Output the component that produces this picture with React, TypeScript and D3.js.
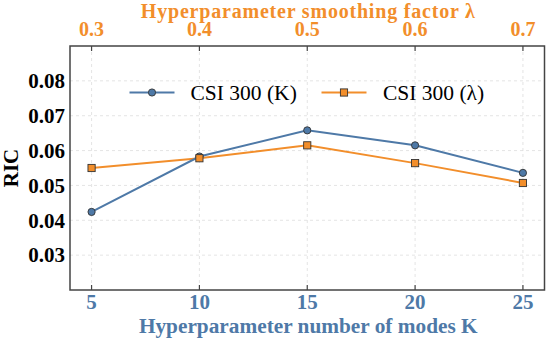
import React, { useRef, useEffect } from "react";
import * as d3 from "d3";

const kValues = [5, 10, 15, 20, 25];
const ricK = [0.0424, 0.0583, 0.0658, 0.0615, 0.0536];
const lambdaValues = [0.3, 0.4, 0.5, 0.6, 0.7];
const ricLambda = [0.055, 0.0578, 0.0615, 0.0564, 0.0507];
const yTicks = [0.03, 0.04, 0.05, 0.06, 0.07, 0.08];

const BLUE = "#4e79a7";
const ORANGE = "#f28e2b";
const FONT = "'Liberation Serif', 'DejaVu Serif', serif";

const App = () => {
  const ref = useRef<SVGSVGElement>(null);

  useEffect(() => {
    if (!ref.current) return;
    const svg = d3.select(ref.current);
    svg.selectAll("*").remove();

    const m = { left: 70, right: 3.5, top: 46, bottom: 51 };
    const W = 548, H = 341;

    const x = d3.scaleLinear().domain([4, 26]).range([m.left, W - m.right]);
    const x2 = d3.scaleLinear().domain([0.28, 0.72]).range([m.left, W - m.right]);
    const y = d3.scaleLinear().domain([0.02, 0.09]).range([H - m.bottom, m.top]);

    const g = svg.append("g");

    // grid
    g.selectAll(".gx").data(kValues).enter().append("line")
      .attr("x1", d => x(d)).attr("x2", d => x(d))
      .attr("y1", m.top).attr("y2", H - m.bottom)
      .attr("stroke", "#ddd").attr("stroke-dasharray", "3,3").attr("stroke-width", 0.8);
    g.selectAll(".gy").data(yTicks).enter().append("line")
      .attr("x1", m.left).attr("x2", W - m.right)
      .attr("y1", d => y(d)).attr("y2", d => y(d))
      .attr("stroke", "#ddd").attr("stroke-dasharray", "3,3").attr("stroke-width", 0.8);

    // frame
    g.append("rect")
      .attr("x", m.left).attr("y", m.top)
      .attr("width", W - m.left - m.right).attr("height", H - m.top - m.bottom)
      .attr("fill", "none").attr("stroke", "#444").attr("stroke-width", 1.5);

    // inner ticks top and bottom
    kValues.forEach(k => {
      g.append("line").attr("x1", x(k)).attr("x2", x(k))
        .attr("y1", H - m.bottom).attr("y2", H - m.bottom - 5)
        .attr("stroke", "#444").attr("stroke-width", 1.2);
    });
    lambdaValues.forEach(l => {
      g.append("line").attr("x1", x2(l)).attr("x2", x2(l))
        .attr("y1", m.top).attr("y2", m.top + 5)
        .attr("stroke", "#444").attr("stroke-width", 1.2);
    });

    // tick labels
    g.selectAll(".ty").data(yTicks).enter().append("text")
      .attr("x", m.left - 5).attr("y", d => y(d)).attr("dy", "0.35em")
      .attr("text-anchor", "end").attr("font-family", FONT).attr("font-weight", "bold")
      .attr("font-size", 21).attr("fill", "#000").text(d => d.toFixed(2));
    g.selectAll(".tx").data(kValues).enter().append("text")
      .attr("x", d => x(d)).attr("y", H - m.bottom + 19)
      .attr("text-anchor", "middle").attr("font-family", FONT).attr("font-weight", "bold")
      .attr("font-size", 21).attr("fill", BLUE).text(d => String(d));
    g.selectAll(".tx2").data(lambdaValues).enter().append("text")
      .attr("x", d => x2(d)).attr("y", m.top - 10.5)
      .attr("text-anchor", "middle").attr("font-family", FONT).attr("font-weight", "bold")
      .attr("font-size", 20).attr("fill", ORANGE).text(d => d.toFixed(1));

    // axis titles
    g.append("text").attr("x", (m.left + W - m.right) / 2 + 1).attr("y", H - 8)
      .attr("text-anchor", "middle").attr("font-family", FONT).attr("font-weight", "bold")
      .attr("font-size", 21.3).attr("fill", BLUE).text("Hyperparameter number of modes K");
    g.append("text").attr("x", (m.left + W - m.right) / 2 + 1).attr("y", 18)
      .attr("text-anchor", "middle").attr("font-family", FONT).attr("font-weight", "bold")
      .attr("font-size", 20).attr("letter-spacing", 0.8)
      .attr("fill", ORANGE).text("Hyperparameter smoothing factor λ");
    g.append("text")
      .attr("transform", `translate(18,${(m.top + H - m.bottom) / 2}) rotate(-90)`)
      .attr("text-anchor", "middle").attr("font-family", FONT).attr("font-weight", "bold")
      .attr("font-size", 21).attr("fill", "#000").text("RIC");

    // lines
    const lineK = d3.line<number>().x((_, i) => x(kValues[i])).y(d => y(d));
    const lineL = d3.line<number>().x((_, i) => x2(lambdaValues[i])).y(d => y(d));
    g.append("path").datum(ricLambda).attr("d", lineL)
      .attr("fill", "none").attr("stroke", ORANGE).attr("stroke-width", 2);
    g.append("path").datum(ricK).attr("d", lineK)
      .attr("fill", "none").attr("stroke", BLUE).attr("stroke-width", 2);

    g.selectAll(".mk").data(ricK).enter().append("circle")
      .attr("cx", (_, i) => x(kValues[i])).attr("cy", d => y(d)).attr("r", 3.6)
      .attr("fill", BLUE).attr("stroke", "#333").attr("stroke-width", 0.9);
    g.selectAll(".ml").data(ricLambda).enter().append("rect")
      .attr("x", (_, i) => x2(lambdaValues[i]) - 3.6).attr("y", d => y(d) - 3.6)
      .attr("width", 7.2).attr("height", 7.2)
      .attr("fill", ORANGE).attr("stroke", "#333").attr("stroke-width", 0.9);

    // legend
    const ly = 92.5;
    const leg = g.append("g");
    leg.append("line").attr("x1", 129.5).attr("x2", 174.5).attr("y1", ly).attr("y2", ly)
      .attr("stroke", BLUE).attr("stroke-width", 2);
    leg.append("circle").attr("cx", 152).attr("cy", ly).attr("r", 3.6)
      .attr("fill", BLUE).attr("stroke", "#333").attr("stroke-width", 0.9);
    leg.append("text").attr("x", 190.5).attr("y", ly).attr("dy", "0.35em")
      .attr("font-family", FONT).attr("font-size", 21.5).attr("fill", "#000").text("CSI 300 (K)");
    leg.append("line").attr("x1", 321.5).attr("x2", 366.5).attr("y1", ly).attr("y2", ly)
      .attr("stroke", ORANGE).attr("stroke-width", 2);
    leg.append("rect").attr("x", 344 - 3.6).attr("y", ly - 3.6).attr("width", 7.2).attr("height", 7.2)
      .attr("fill", ORANGE).attr("stroke", "#333").attr("stroke-width", 0.9);
    leg.append("text").attr("x", 383).attr("y", ly).attr("dy", "0.35em")
      .attr("font-family", FONT).attr("font-size", 21.5).attr("fill", "#000").text("CSI 300 (λ)");
  }, []);

  return (
    <svg ref={ref} width={548} height={341}
      style={{ position: "absolute", left: 0, top: 0, background: "#fff" }} />
  );
};

export default App;
